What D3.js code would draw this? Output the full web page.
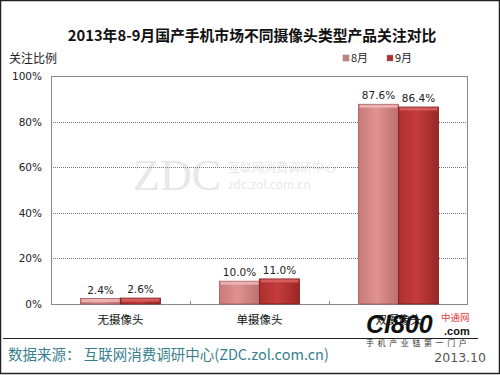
<!DOCTYPE html>
<html><head><meta charset="utf-8">
<script src="https://cdn.jsdelivr.net/npm/d3@7"></script>
<style>body{margin:0;background:#fff}svg{display:block}</style>
</head><body>
<script>
const categories = ["无摄像头", "单摄像头", "双摄像头"];
const seriesNames = ["8月", "9月"];
const aug = [2.4, 10.0, 87.6];
const sep = [2.6, 11.0, 86.4];
const yTicks = [0, 20, 40, 60, 80, 100];

(function(){
const W = 500, H = 375;
const svg = d3.select("body").append("svg").attr("width", W).attr("height", H);
const font = "'Noto Sans CJK SC', 'Liberation Sans', sans-serif";

const defs = svg.append("defs");
const g1 = defs.append("linearGradient").attr("id", "gA").attr("x1", 0).attr("x2", 1).attr("y1", 0).attr("y2", 0);
[["0%", "#c97a7a"], ["45%", "#e09292"], ["100%", "#bb7070"]].forEach(s => g1.append("stop").attr("offset", s[0]).attr("stop-color", s[1]));
const g2 = defs.append("linearGradient").attr("id", "gB").attr("x1", 0).attr("x2", 1).attr("y1", 0).attr("y2", 0);
[["0%", "#ad2f2f"], ["45%", "#c53c3c"], ["100%", "#9a2626"]].forEach(s => g2.append("stop").attr("offset", s[0]).attr("stop-color", s[1]));
const fills = ["url(#gA)", "url(#gB)"];
const tops = ["#f0b8b8", "#d86464"];
const edges = ["#a05a5a", "#7a1c1c"];
const legendCol = ["#c98080", "#b03030"];

// frame
svg.append("rect").attr("x", 0.5).attr("y", 0.5).attr("width", W - 1).attr("height", H - 2).attr("fill", "none").attr("stroke", "#222").attr("stroke-width", 1.5);

// title
svg.append("text").attr("x", 252).attr("y", 41).attr("text-anchor", "middle")
  .style("font-family", "'Noto Sans CJK SC', sans-serif").style("font-weight", "bold").style("font-size", "14.8px").attr("fill", "#111")
  .text("2013年8-9月国产手机市场不同摄像头类型产品关注对比");

svg.append("text").attr("x", 9).attr("y", 63).style("font-family", font).style("font-size", "12px").attr("fill", "#222").text("关注比例");

const pL = 51, pR = 468, pT = 76, pB = 304;
const x0 = d3.scaleBand().domain(categories).range([pL, pR]).paddingInner(0).paddingOuter(0);
const x1 = d3.scaleBand().domain(seriesNames).range([0, x0.bandwidth()]).paddingInner(0).paddingOuter(0.7375);
const y = d3.scaleLinear().domain([0, 100]).range([pB, pT]);

// watermark
svg.append("text").attr("x", 133).attr("y", 190).style("font-family", "'Liberation Serif', serif").style("font-size", "44px").attr("fill", "#e8e8e8").text("ZDC");
svg.append("text").attr("x", 228).attr("y", 172).style("font-family", font).style("font-size", "12px").attr("fill", "#e8e8e8").text("互联网消费调研中心");
svg.append("text").attr("x", 228).attr("y", 189).style("font-family", font).style("font-size", "12px").attr("fill", "#e8e8e8").text("zdc.zol.com.cn");

// gridlines
svg.append("g").selectAll("line").data(yTicks.filter(d => d > 0)).join("line")
  .attr("x1", pL).attr("x2", pR).attr("y1", d => Math.round(y(d)) + 0.5).attr("y2", d => Math.round(y(d)) + 0.5)
  .attr("stroke", "#777").attr("stroke-dasharray", "1,1");

// plot frame
svg.append("rect").attr("x", pL + 0.5).attr("y", pT + 0.5).attr("width", pR - pL - 1).attr("height", pB - pT)
  .attr("fill", "none").attr("stroke", "#888");

// y labels
svg.append("g").selectAll("text").data(yTicks).join("text")
  .attr("x", 42).attr("y", d => y(d) + 4).attr("text-anchor", "end")
  .style("font-family", "'DejaVu Sans', sans-serif").style("font-size", "10.5px").attr("fill", "#222")
  .text(d => d + "%");

// x ticks
svg.append("g").selectAll("line").data(categories.slice(1)).join("line")
  .attr("x1", d => Math.round(x0(d)) + 0.5).attr("x2", d => Math.round(x0(d)) + 0.5)
  .attr("y1", pB - 3).attr("y2", pB + 1).attr("stroke", "#888");

const rows = categories.map((c, i) => [{c, s: 0, v: aug[i]}, {c, s: 1, v: sep[i]}]).flat();
const bars = svg.append("g").selectAll("g").data(rows).join("g")
  .attr("transform", d => `translate(${x0(d.c) + x1(seriesNames[d.s])},0)`);
const bw = x1.bandwidth();
bars.append("rect").attr("x", 0).attr("y", d => y(d.v)).attr("width", bw).attr("height", d => pB - y(d.v))
  .attr("fill", d => fills[d.s]).attr("stroke", d => edges[d.s]).attr("stroke-width", 0.8);
bars.append("rect").attr("x", 1).attr("y", d => y(d.v) + 0.5).attr("width", bw - 2).attr("height", d => Math.min(3, pB - y(d.v) - 1))
  .attr("fill", d => tops[d.s]).attr("opacity", 0.85);

// value labels
bars.append("text").attr("x", bw / 2).attr("y", d => y(d.v) - 5).attr("text-anchor", "middle")
  .style("font-family", "'DejaVu Sans', sans-serif").style("font-size", "10.5px").attr("fill", "#222")
  .text(d => d.v.toFixed(1) + "%");

// category labels
svg.append("g").selectAll("text").data(categories).join("text")
  .attr("x", d => x0(d) + x0.bandwidth() / 2).attr("y", 324).attr("text-anchor", "middle")
  .style("font-family", font).style("font-size", "11.5px").attr("fill", "#111").text(d => d);

// legend
const lg = svg.append("g").selectAll("g").data(seriesNames).join("g")
  .attr("transform", (d, i) => `translate(${343 + i * 44},55)`);
lg.append("rect").attr("width", 6).attr("height", 6).attr("fill", (d, i) => legendCol[i]).attr("stroke", "#888").attr("stroke-width", 0.5);
lg.append("text").attr("x", 8).attr("y", 7).style("font-family", font).style("font-size", "11px").attr("fill", "#222").text(d => d);

// bottom rule & source
svg.append("line").attr("x1", 3).attr("x2", 478).attr("y1", 338.5).attr("y2", 338.5).attr("stroke", "#222").attr("stroke-width", 1);
svg.append("text").attr("x", 8).attr("y", 360).style("font-family", font).style("font-size", "14.5px").attr("fill", "#3a7f8e")
  .attr("xml:space", "preserve").style("white-space", "pre")
  .text("数据来源： 互联网消费调研中心(ZDC.zol.com.cn)");
svg.append("text").attr("x", 486).attr("y", 362).attr("text-anchor", "end").style("font-family", "'DejaVu Sans', sans-serif").style("font-size", "12.5px").attr("fill", "#555").text("2013.10");

// CI800 logo approximation
svg.append("text").attr("x", 366).attr("y", 333).style("font-family", "'Liberation Sans', sans-serif").style("font-weight", "bold").style("font-style", "italic").style("font-size", "25px").attr("fill", "#111").text("CI800");
svg.append("text").attr("x", 441).attr("y", 321).style("font-family", font).style("font-size", "9.5px").attr("fill", "#e04040").text("中通网");
svg.append("text").attr("x", 444).attr("y", 335).style("font-family", "'Liberation Sans', sans-serif").style("font-weight", "bold").style("font-size", "11px").attr("fill", "#111").text(".com");
svg.append("text").attr("x", 366).attr("y", 346).style("font-family", font).style("font-size", "8px").attr("fill", "#333").attr("letter-spacing", "3.6px").text("手机产业链第一门户");
})();
</script>
</body></html>
